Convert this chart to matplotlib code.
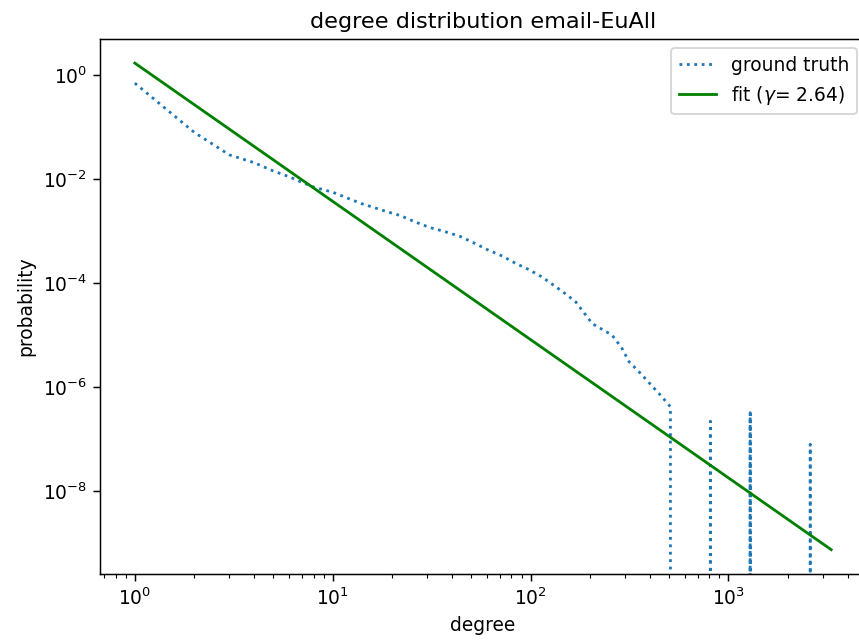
import numpy as np
import matplotlib
matplotlib.use('Agg')
import matplotlib.pyplot as plt

# ground truth degree distribution, zeros = no nodes
gt_degree = [1, 2, 3, 4, 5, 6, 7, 8, 10, 12, 14, 16, 19, 22, 26, 31, 37, 44,
             52, 60, 72, 84, 98, 114, 133, 153, 169, 186, 205, 225, 258, 274,
             290, 314, 360, 404, 454, 509,
             510, 809, 810, 811, 1286, 1287, 1288, 1289, 1290, 2588, 2589, 2590]
gt_logprob = [-0.15, -1.10, -1.53, -1.68, -1.84, -1.95, -2.06, -2.15, -2.25,
              -2.37, -2.47, -2.54, -2.63, -2.70, -2.82, -2.93, -3.01, -3.10,
              -3.23, -3.35, -3.48, -3.62, -3.74, -3.88, -4.06, -4.23, -4.36,
              -4.57, -4.78, -4.87, -5.00, -5.13, -5.26, -5.51, -5.74, -5.95,
              -6.16, -6.38]
gt_spikes = [0, 0, 2.2e-7, 0, 0, 3.2e-7, 0, 3.0e-7, 0, 0, 7.9e-8, 0]
gt_prob = [10 ** v for v in gt_logprob] + gt_spikes

# fitted power law, end points
fit_degree = [1, 3304]
fit_prob = [1.72, 7.4e-10]
gamma = 2.64

dpi = 134.21875
fig = plt.figure(figsize=(6.4, 4.8), dpi=dpi)
ax = fig.add_axes([100 / 859, 70 / 644, 766 / 859, 535 / 644])

ax.plot(gt_degree, gt_prob, ':', label='ground truth')
ax.plot(fit_degree, fit_prob, color='green', label=r'fit ($\gamma$= ' + f'{gamma:.2f})')
ax.set_xscale('log')
ax.set_yscale('log')
ax.set_xlabel('degree')
ax.set_ylabel('probability')
ax.set_title('degree distribution email-EuAll')
ax.legend(loc='upper right')

fig.savefig('out.png', dpi=dpi)
